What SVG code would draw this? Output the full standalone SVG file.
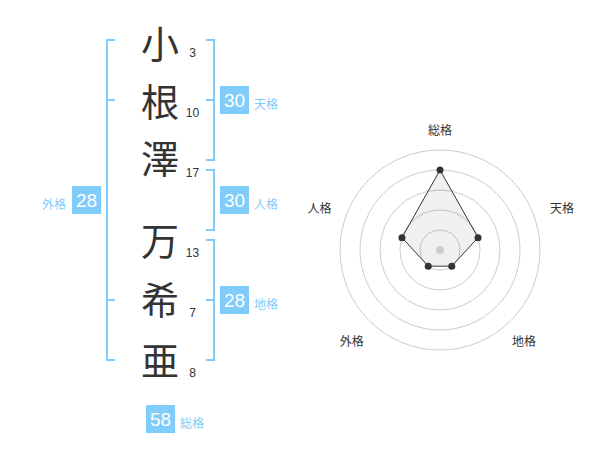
<svg xmlns="http://www.w3.org/2000/svg" width="600" height="470" viewBox="0 0 600 470">
<style>
.ch{font-family:"Noto Sans CJK JP","Noto Sans CJK SC",sans-serif;font-size:38px;fill:#333;text-anchor:middle}
.st{font-family:"Liberation Sans",Arial,sans-serif;font-size:12px;fill:#333;text-anchor:middle}
.br{fill:none;stroke:#80ccfa;stroke-width:2}
.bx{fill:#80ccfa}
.bn{font-family:"Liberation Sans",Arial,sans-serif;font-size:19px;fill:#fff;text-anchor:middle}
.bl{font-family:"Noto Sans CJK JP","Noto Sans CJK SC",sans-serif;font-size:12px;fill:#80ccfa}
.rl{font-family:"Noto Sans CJK JP","Noto Sans CJK SC",sans-serif;font-size:12px;fill:#333;text-anchor:middle}
.ring{fill:none;stroke:#ccc;stroke-width:1}
.dot{fill:#333}
</style>
<rect width="600" height="470" fill="#fff"/>
<g id="connectors">
<path class="br" d="M115,40 H107 V360 H115 M107,100 H115 M107,300 H115"/>
<path class="br" d="M206,40 H214 V160 H206 M214,100 H206"/>
<path class="br" d="M206,170 H214 V230 H206"/>
<path class="br" d="M206,240 H214 V360 H206 M214,300 H206"/>
</g>
<g id="char1"><text class="ch" x="160" y="58">小</text><text class="st" x="192.5" y="57">3</text></g>
<g id="char2"><text class="ch" x="160" y="116">根</text><text class="st" x="192.5" y="117">10</text></g>
<g id="char3"><text class="ch" x="160" y="173">澤</text><text class="st" x="192.5" y="177">17</text></g>
<g id="char4"><text class="ch" x="160" y="255">万</text><text class="st" x="192.5" y="257">13</text></g>
<g id="char5"><text class="ch" x="160" y="314">希</text><text class="st" x="192.5" y="317">7</text></g>
<g id="char6"><text class="ch" x="160" y="375">亜</text><text class="st" x="192.5" y="377">8</text></g>
<g id="tenkaku"><rect class="bx" x="220" y="86" width="29" height="28"/><text class="bn" x="234.5" y="107">30</text><text class="bl" x="254" y="109">天格</text></g>
<g id="jinkaku"><rect class="bx" x="220" y="186" width="29" height="28"/><text class="bn" x="234.5" y="207">30</text><text class="bl" x="254" y="209">人格</text></g>
<g id="chikaku"><rect class="bx" x="220" y="286" width="29" height="28"/><text class="bn" x="234.5" y="307">28</text><text class="bl" x="254" y="309">地格</text></g>
<g id="gaikaku"><rect class="bx" x="72" y="186" width="29" height="28"/><text class="bn" x="86.5" y="207">28</text><text class="bl" x="66" y="209" text-anchor="end">外格</text></g>
<g id="soukaku"><rect class="bx" x="146" y="405" width="29" height="28"/><text class="bn" x="160.5" y="426">58</text><text class="bl" x="180" y="428">総格</text></g>
<g id="radar">
<circle class="ring" cx="440" cy="250" r="20"/>
<circle class="ring" cx="440" cy="250" r="40"/>
<circle class="ring" cx="440" cy="250" r="60"/>
<circle class="ring" cx="440" cy="250" r="80"/>
<circle class="ring" cx="440" cy="250" r="100"/>
<polygon points="440,170 478.04,237.64 451.76,266.18 428.24,266.18 401.96,237.64" fill="#000" fill-opacity="0.06" stroke="#333" stroke-width="1"/>
<circle cx="440" cy="250" r="4" fill="#ccc"/>
<circle class="dot" cx="440" cy="170" r="3.5"/>
<circle class="dot" cx="478.04" cy="237.64" r="3.5"/>
<circle class="dot" cx="451.76" cy="266.18" r="3.5"/>
<circle class="dot" cx="428.24" cy="266.18" r="3.5"/>
<circle class="dot" cx="401.96" cy="237.64" r="3.5"/>
<text class="rl" x="440" y="135">総格</text>
<text class="rl" x="562" y="213">天格</text>
<text class="rl" x="319.5" y="213">人格</text>
<text class="rl" x="351.7" y="346">外格</text>
<text class="rl" x="524" y="346">地格</text>
</g>
</svg>
